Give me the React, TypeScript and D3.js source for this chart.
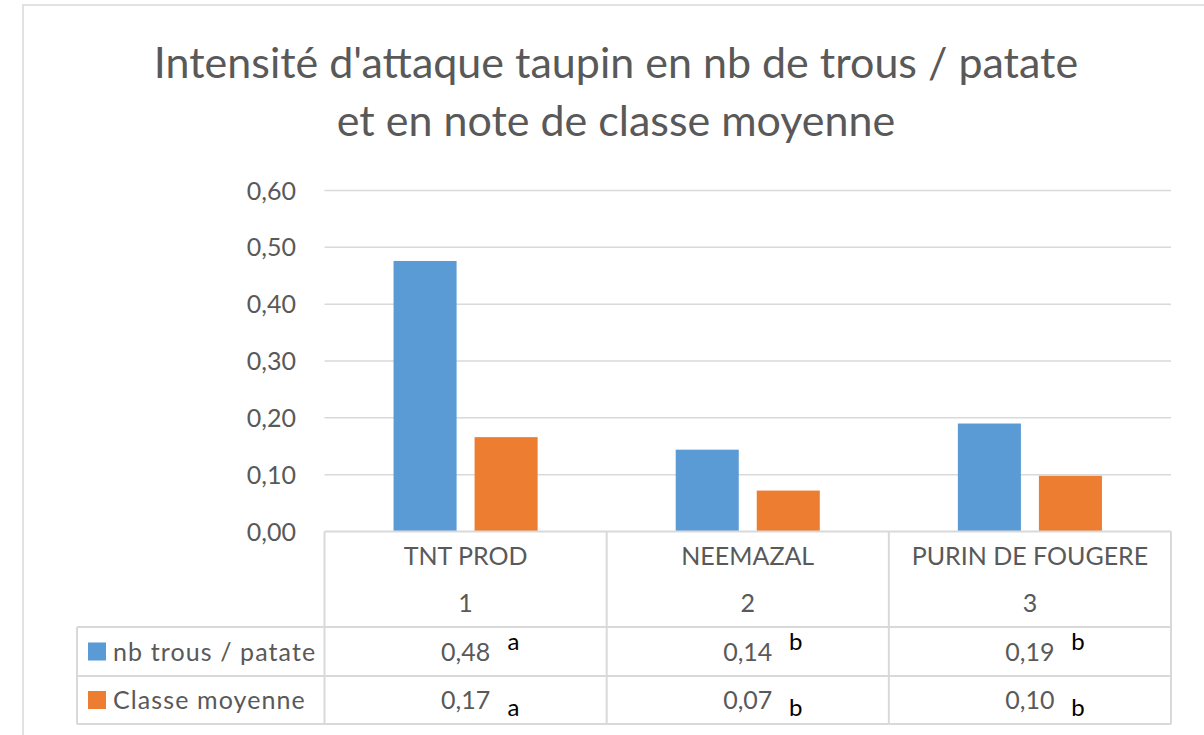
import React from 'react';
import * as d3 from 'd3';

// chart data
const categories = ['TNT PROD', 'NEEMAZAL', 'PURIN DE FOUGERE'];
const categoryNumbers = ['1', '2', '3'];
const seriesNames = ['nb trous / patate', 'Classe moyenne'];
const trousValues = [0.476, 0.144, 0.19];
const classeValues = [0.166, 0.072, 0.098];
const trousLetters = ['a', 'b', 'b'];
const classeLetters = ['a', 'b', 'b'];
const yTicks = [0, 0.1, 0.2, 0.3, 0.4, 0.5, 0.6];
const titleLines = [
  "Intensité d'attaque taupin en nb de trous / patate",
  'et en note de classe moyenne',
];

const colors = ['#5B9BD5', '#ED7D31'];
const textColor = '#595959';
const lineColor = '#d9d9d9';
const font = 'Lato, "Open Sans", sans-serif';

const App = () => {
  const width = 1204;
  const height = 735;

  // plot area
  const left = 324.5;
  const right = 1171;
  const top = 190.5;
  const bottom = 531.5;

  // table rows
  const headerTop = bottom;
  const row1Top = 627;
  const row2Top = 676;
  const tableBottom = 724;
  const tableLeft = 77;

  const x0 = d3.scaleBand<string>()
    .domain(categories)
    .range([left, right])
    .padding(0);

  const x1 = d3.scaleBand<string>()
    .domain(seriesNames)
    .range([0, x0.bandwidth()])
    .paddingInner(0.222)
    .paddingOuter(0.852);

  const y = d3.scaleLinear()
    .domain([0, 0.6])
    .range([bottom, top]);

  const fmt = (v: number) => d3.format('.2f')(v).replace('.', ',');

  const series = [trousValues, classeValues];
  const letters = [trousLetters, classeLetters];
  const rowTops = [row1Top, row2Top];

  return (
    <svg
      width={width}
      height={height}
      style={{ position: 'absolute', left: 0, top: 0, background: '#fff' }}
      fontFamily={font}
    >
      <rect x={0} y={0} width={width} height={height} fill="#fff" />
      {/* chart frame */}
      <rect x={23} y={5} width={1200} height={760} fill="none" stroke={lineColor} strokeWidth={1.5} />

      {/* title */}
      {titleLines.map((t, i) => (
        <text
          key={t}
          x={616}
          y={78 + i * 58}
          textAnchor="middle"
          fontSize={43}
          fill={textColor}
        >
          {t}
        </text>
      ))}

      {/* gridlines */}
      {yTicks.map((t) => (
        <g key={t}>
          {t > 0 && (
            <line x1={left} x2={right} y1={y(t)} y2={y(t)} stroke={lineColor} strokeWidth={1.5} />
          )}
          <text
            x={296}
            y={y(t)}
            dy="0.36em"
            textAnchor="end"
            fontSize={25}
            fill={textColor}
          >
            {fmt(t)}
          </text>
        </g>
      ))}

      {/* bars */}
      {categories.map((c, ci) => (
        <g key={c} transform={`translate(${x0(c)},0)`}>
          {seriesNames.map((s, si) => (
            <rect
              key={s}
              x={x1(s)}
              y={y(series[si][ci])}
              width={x1.bandwidth()}
              height={y(0) - y(series[si][ci])}
              fill={colors[si]}
            />
          ))}
        </g>
      ))}

      {/* data table lines */}
      <g stroke={lineColor} strokeWidth={2}>
        <line x1={left} x2={right} y1={headerTop} y2={headerTop} />
        {[row1Top, row2Top, tableBottom].map((ry) => (
          <line key={ry} x1={tableLeft} x2={right} y1={ry} y2={ry} />
        ))}
        <line x1={tableLeft} x2={tableLeft} y1={row1Top} y2={tableBottom} />
        {categories.map((c) => (
          <line key={c} x1={x0(c)} x2={x0(c)} y1={headerTop} y2={tableBottom} />
        ))}
        <line x1={right} x2={right} y1={headerTop} y2={tableBottom} />
      </g>

      {/* header cells */}
      {categories.map((c, ci) => {
        const cx = (x0(c) ?? 0) + x0.bandwidth() / 2;
        return (
          <g key={c} fontSize={25} fill={textColor} textAnchor="middle">
            <text x={cx} y={565}>{c}</text>
            <text x={cx} y={612}>{categoryNumbers[ci]}</text>
          </g>
        );
      })}

      {/* legend keys and values */}
      {seriesNames.map((s, si) => {
        const mid = (rowTops[si] + (si === 0 ? row2Top : tableBottom)) / 2;
        return (
          <g key={s}>
            <rect x={88} y={mid - 9} width={18} height={18} fill={colors[si]} />
            <text x={113} y={mid} dy="0.36em" fontSize={25} letterSpacing={1.1} fill={textColor}>{s}</text>
            {categories.map((c, ci) => {
              const cx = (x0(c) ?? 0) + x0.bandwidth() / 2;
              return (
                <g key={c}>
                  <text x={cx} y={mid} dy="0.36em" textAnchor="middle" fontSize={25} fill={textColor}>
                    {fmt(series[si][ci])}
                  </text>
                  <text
                    x={cx + 48}
                    y={si === 0 ? mid - 2 : mid + 16}
                    textAnchor="middle"
                    fontSize={24}
                    fill="#000"
                  >
                    {letters[si][ci]}
                  </text>
                </g>
              );
            })}
          </g>
        );
      })}
    </svg>
  );
};

export default App;
